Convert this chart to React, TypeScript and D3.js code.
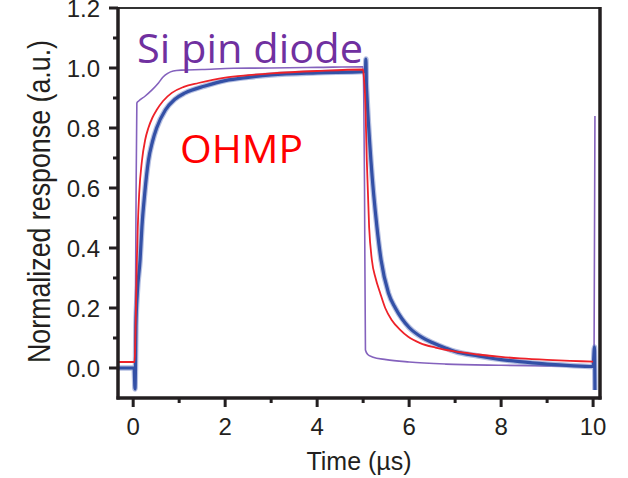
import React from "react";
import * as d3 from "d3";

// Time (µs) and normalized response values
const siTime = [-0.33, 0.04, 0.06, 0.08, 0.12, 0.25, 0.41, 0.55, 0.65, 0.75, 0.87, 1.05, 1.5, 2.18, 3.0, 4.0, 5.0, 5.03, 5.05, 5.1, 5.2, 5.5, 6.0, 6.8, 8.0, 9.0, 10.02, 10.04];
const siValue = [0.0, 0.0, 0.5, 0.883, 0.89, 0.905, 0.927, 0.95, 0.97, 0.982, 0.99, 0.993, 0.995, 0.999, 1.0, 1.002, 1.004, 0.6, 0.06, 0.045, 0.037, 0.028, 0.02, 0.013, 0.009, 0.007, 0.006, 0.84];

const ohmpTime = [-0.33, 0.03, 0.04, 0.06, 0.08, 0.1, 0.13, 0.19, 0.26, 0.33, 0.42, 0.51, 0.65, 0.84, 1.1, 1.42, 2.0, 2.5, 3.0, 4.0, 5.0, 5.02, 5.04, 5.08, 5.13, 5.19, 5.27, 5.37, 5.48, 5.62, 5.8, 5.98, 6.24, 6.57, 6.96, 7.5, 8.0, 8.41, 9.0, 9.5, 10.0];
const ohmpValue = [0.02, 0.02, 0.05, 0.2, 0.36, 0.47, 0.58, 0.69, 0.76, 0.8, 0.835, 0.86, 0.89, 0.917, 0.937, 0.95, 0.968, 0.976, 0.982, 0.99, 0.995, 0.96, 0.916, 0.69, 0.47, 0.36, 0.3, 0.25, 0.2, 0.16, 0.128, 0.104, 0.083, 0.068, 0.056, 0.045, 0.037, 0.032, 0.027, 0.024, 0.021];

const measTime = [-0.33, 0.02, 0.04, 0.05, 0.06, 0.09, 0.15, 0.19, 0.25, 0.33, 0.42, 0.51, 0.7, 0.9, 1.13, 1.56, 2.0, 2.5, 3.0, 4.0, 5.0, 5.05, 5.06, 5.07, 5.08, 5.17, 5.3, 5.39, 5.55, 5.7, 5.84, 6.0, 6.28, 6.5, 6.8, 7.0, 7.5, 8.0, 8.4, 9.0, 9.5, 10.0, 10.03, 10.04];
const measValue = [0.0, 0.0, -0.07, 0.0, 0.14, 0.25, 0.36, 0.47, 0.58, 0.69, 0.755, 0.8, 0.86, 0.895, 0.917, 0.94, 0.958, 0.969, 0.977, 0.984, 0.988, 0.99, 1.03, 0.95, 0.916, 0.69, 0.47, 0.36, 0.25, 0.2, 0.165, 0.135, 0.102, 0.085, 0.066, 0.055, 0.04, 0.028, 0.021, 0.013, 0.008, 0.005, 0.07, -0.073];

const xMajorTicks = [0, 2, 4, 6, 8, 10];
const xMinorTicks = [1, 3, 5, 7, 9];
const yMajorTicks = [0.0, 0.2, 0.4, 0.6, 0.8, 1.0, 1.2];
const yMinorTicks = [0.1, 0.3, 0.5, 0.7, 0.9, 1.1];

const W = 628;
const H = 478;
const left = 118, right = 600, top = 8, bottom = 398;

export default function App() {
  const x = d3.scaleLinear().domain([-0.33, 10.15]).range([left, right]);
  const y = d3.scaleLinear().domain([-0.1, 1.2]).range([bottom, top]);

  const line = d3
    .line<[number, number]>()
    .x((d) => x(d[0]))
    .y((d) => y(d[1]))
    .curve(d3.curveMonotoneX);

  const zip = (t: number[], v: number[]) => t.map((tt, i) => [tt, v[i]] as [number, number]);

  const axisFont = "'Liberation Sans', Arial, Helvetica, sans-serif";
  const textColor = "#231f20";

  return (
    <svg width={W} height={H} style={{ position: "absolute", left: 0, top: 0, background: "#fff" }}>
      <defs>
        <clipPath id="plot">
          <rect x={left} y={top} width={right - left} height={bottom - top} />
        </clipPath>
      </defs>

      <g clipPath="url(#plot)" fill="none">
        <path d={line(zip(siTime, siValue)) || ""} stroke="#8462bd" strokeWidth={1.6} />
        <path d={line(zip(measTime, measValue)) || ""} stroke="#5a72bd" strokeWidth={5.5} strokeOpacity={0.45} />
        <path d={line(zip(measTime, measValue)) || ""} stroke="#3350a6" strokeWidth={3.2} />
        <path d={line(zip(ohmpTime, ohmpValue)) || ""} stroke="#ee2229" strokeWidth={1.8} />
      </g>

      {/* frame */}
      <line x1={left} x2={right} y1={top} y2={top} stroke="#333" strokeWidth={2} />
      <line x1={right} x2={right} y1={top - 1} y2={bottom + 1.5} stroke="#231f20" strokeWidth={3.5} />
      <line x1={left} x2={left} y1={top - 1} y2={bottom + 1.5} stroke="#231f20" strokeWidth={3.5} />
      <line x1={left - 1.5} x2={right + 1.5} y1={bottom} y2={bottom} stroke="#231f20" strokeWidth={3.5} />

      {/* y ticks */}
      {yMajorTicks.map((t) => (
        <g key={"ym" + t}>
          <line x1={left - 9} x2={left} y1={y(t)} y2={y(t)} stroke={textColor} strokeWidth={3} />
          <text x={100} y={y(t)} dy="0.36em" textAnchor="end" fontFamily={axisFont} fontSize={24} fill={textColor}>
            {t.toFixed(1)}
          </text>
        </g>
      ))}
      {yMinorTicks.map((t) => (
        <line key={"yn" + t} x1={left - 5} x2={left} y1={y(t)} y2={y(t)} stroke={textColor} strokeWidth={3} />
      ))}

      {/* x ticks */}
      {xMajorTicks.map((t) => (
        <g key={"xm" + t}>
          <line x1={x(t)} x2={x(t)} y1={bottom} y2={bottom + 9} stroke={textColor} strokeWidth={3} />
          <text x={x(t)} y={435} textAnchor="middle" fontFamily={axisFont} fontSize={24} fill={textColor}>
            {t}
          </text>
        </g>
      ))}
      {xMinorTicks.map((t) => (
        <line key={"xn" + t} x1={x(t)} x2={x(t)} y1={bottom} y2={bottom + 5} stroke={textColor} strokeWidth={3} />
      ))}

      {/* axis titles */}
      <text x={(left + right) / 2} y={470} textAnchor="middle" fontFamily={axisFont} fontSize={25} fill={textColor}>
        Time (µs)
      </text>
      <text
        transform={`translate(50, 201.5) rotate(-90)`}
        textAnchor="middle"
        fontFamily={axisFont}
        fontSize={31}
        fill={textColor}
        textLength={323}
        lengthAdjust="spacingAndGlyphs"
      >
        Normalized response (a.u.)
      </text>

      {/* annotations */}
      <text x={137} y={63} fontFamily="'Open Sans', 'Noto Sans', sans-serif" fontSize={40} fill="#7030a0" textLength={226} lengthAdjust="spacingAndGlyphs">
        Si pin diode
      </text>
      <text x={180} y={163} fontFamily="'Open Sans', 'Noto Sans', sans-serif" fontSize={39} fill="#ff0000" textLength={123} lengthAdjust="spacingAndGlyphs">
        OHMP
      </text>
    </svg>
  );
}
